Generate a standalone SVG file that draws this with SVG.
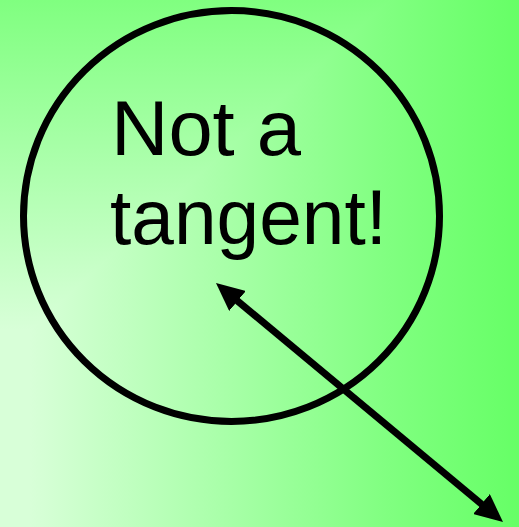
<svg xmlns="http://www.w3.org/2000/svg" width="519" height="527" viewBox="0 0 519 527">
<defs>
<linearGradient id="gh" x1="0" y1="0" x2="519" y2="0" gradientUnits="userSpaceOnUse">
<stop offset="0" stop-color="#dbffdb"/>
<stop offset="0.058" stop-color="#d8ffd8"/>
<stop offset="0.751" stop-color="#80ff80"/>
<stop offset="1" stop-color="#66ff66"/>
</linearGradient>
<linearGradient id="gv" x1="0" y1="330" x2="0" y2="0" gradientUnits="userSpaceOnUse">
<stop offset="0" stop-color="#d8ffd8"/>
<stop offset="1" stop-color="#80ff80"/>
</linearGradient>
<marker id="ah" viewBox="0 0 10 10" refX="6" refY="5" markerUnits="userSpaceOnUse" markerWidth="28" markerHeight="26" orient="auto-start-reverse" preserveAspectRatio="none">
<path d="M0,0 L10,5 L0,10 Z" fill="#000"/>
</marker>
<style>
.lbl{font-family:"Liberation Sans","DejaVu Sans",sans-serif;font-size:78px;fill:#000}
</style>
</defs>
<rect x="0" y="0" width="519" height="527" fill="url(#gh)"/>
<polygon points="0,0 390,0 30,330 30,527 0,527" fill="url(#gv)"/>
<g id="circle">
<ellipse cx="231.5" cy="216" rx="208" ry="205.5" fill="none" stroke="#000" stroke-width="7"/>
</g>
<g id="label">
<text class="lbl" x="111" y="155" textLength="190" lengthAdjust="spacingAndGlyphs">Not a</text>
<text class="lbl" x="110" y="244" textLength="277" lengthAdjust="spacingAndGlyphs">tangent!</text>
</g>
<g id="connectors">
<line x1="224.6" y1="290.2" x2="494.4" y2="514.8" stroke="#000" stroke-width="7" marker-start="url(#ah)" marker-end="url(#ah)"/>
</g>
</svg>
